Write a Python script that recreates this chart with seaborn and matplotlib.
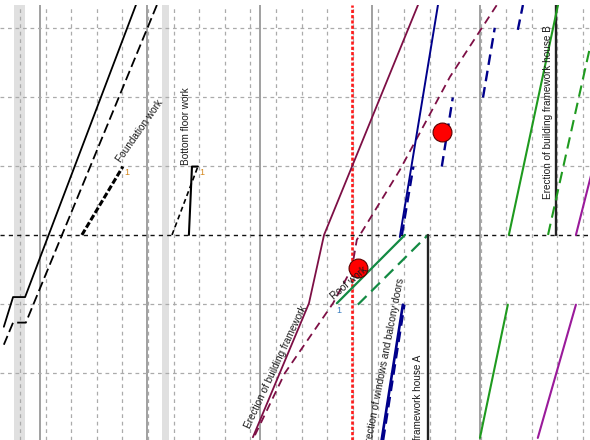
import matplotlib
matplotlib.use("Agg")
import matplotlib.pyplot as plt
import numpy as np
import pandas as pd
import seaborn as sns

sns.set_theme(style="white")
plt.rcParams["font.family"] = ["Liberation Sans", "DejaVu Sans"]

# ---------------- data (x = working day, y = building level) ----------------
day_grid = list(range(0, 23))
week_lines = [0.78, 4.96, 9.38, 13.75, 17.97]
level_grid = [-2, -1, 1, 2, 3]
house_split_level = 0
weekend_bands = [(-0.23, 0.20), (5.55, 5.82)]
status_day = 12.97

excav_act_day = [4.53, 0.20, -0.27, -0.63]
excav_act_lvl = [3.33, -0.90, -0.90, -1.33]
excav_plan_day = [5.35, 0.23, -0.27, -0.63]
excav_plan_lvl = [3.33, -1.27, -1.27, -1.59]

foundation_day = [2.42, 4.02]
foundation_lvl = [0.0, 0.99]

bottom_act_day = [6.60, 6.72, 6.95]
bottom_act_lvl = [0.0, 0.99, 0.99]
bottom_plan_day = [5.94, 6.95]
bottom_plan_lvl = [0.0, 0.99]

frame_act_day = [9.10, 11.29, 11.88, 15.55]
frame_act_lvl = [-2.93, -0.99, 0.0, 3.33]
frame_plan_day = [9.18, 10.35, 12.23, 12.97, 13.16, 13.40, 14.84, 16.80, 18.63]
frame_plan_lvl = [-2.90, -2.0, -0.99, -0.48, -0.07, 0.07, 0.94, 2.29, 3.33]

roof_act_day = [12.38, 15.04]
roof_act_lvl = [-0.99, 0.0]
roof_plan_day = [13.20, 15.94]
roof_plan_lvl = [-1.01, 0.0]

houseA_day = [15.94, 15.94]
houseA_lvl = [0.0, -2.97]
houseB_day = [20.94, 20.94]
houseB_lvl = [0.0, 3.33]

win_act_low_day = [14.13, 14.96]
win_act_low_lvl = [-2.97, -1.01]
win_act_up_day = [14.84, 16.33]
win_act_up_lvl = [-0.03, 3.33]
win_plan_segments = [
    ([14.19, 15.02], [-2.97, -1.01]),
    ([14.92, 15.37], [0.0, 0.99]),
    ([16.48, 16.91], [0.99, 1.99]),
    ([18.09, 18.55], [1.99, 3.0]),
    ([19.45, 19.65], [2.97, 3.33]),
]

green_act_low_day = [17.97, 19.06]
green_act_low_lvl = [-2.94, -1.01]
green_act_up_day = [19.10, 21.02]
green_act_up_lvl = [0.0, 3.33]
green_plan_day = [20.63, 22.64]
green_plan_lvl = [0.0, 3.33]

purple_low_day = [20.23, 21.72]
purple_low_lvl = [-2.94, -1.01]
purple_up_day = [21.72, 24.0]
purple_up_lvl = [0.0, 3.33]

delay_day = [13.20, 16.47]
delay_lvl = [-0.48, 1.49]

# ---------------- figure ----------------
fig = plt.figure(figsize=(5.9, 4.4), dpi=100)
ax = fig.add_axes([0, 0, 1, 435 / 440])
ax.set_xlim(-0.78, 22.27)
ax.set_ylim(-2.97, 3.33)
for s in ax.spines.values():
    s.set_visible(False)
ax.set_xticks([])
ax.set_yticks([])
ax.set_facecolor("white")

for a, b in weekend_bands:
    ax.axvspan(a, b, color="#e0e0e0", lw=0, zorder=0)
for d in day_grid:
    ax.axvline(d, color="#ababab", lw=0.9, ls=(0, (3, 3)), zorder=1)
for w in week_lines:
    ax.axvline(w, color="#a0a0a0", lw=1.4, zorder=1)
for l in level_grid:
    ax.axhline(l, color="#ababab", lw=0.9, ls=(0, (3, 3)), zorder=1)
ax.axhline(house_split_level, color="#111111", lw=1, ls=(0, (3, 3)), zorder=1)
ax.axvline(status_day, color="#ff1a1a", lw=1.9, ls=(0, (1.2, 0.8)), zorder=2)


def line(xs, ys, color, ls="-", lw=1.3, z=3):
    df = pd.DataFrame({"x": xs, "y": ys})
    sns.lineplot(data=df, x="x", y="y", sort=False, estimator=None, ax=ax,
                 color=color, linestyle=ls, lw=lw, zorder=z)


BLACK = "#000000"
MAROON = "#7d0f45"
NAVY = "#00008b"
GREEN_R = "#138a43"
GREEN = "#1f9a1f"
PURPLE = "#9a1a9a"

line(excav_act_day, excav_act_lvl, BLACK)
line(excav_plan_day, excav_plan_lvl, BLACK, ls=(0, (5.5, 2.4)))
line(foundation_day, foundation_lvl, BLACK, ls=(0, (2, 0.8)), lw=2.2)
line(bottom_act_day, bottom_act_lvl, BLACK, lw=1.5)
line(bottom_plan_day, bottom_plan_lvl, BLACK, ls=(0, (3, 2)), lw=1.2)
line(frame_act_day, frame_act_lvl, MAROON)
line(frame_plan_day, frame_plan_lvl, MAROON, ls=(0, (4.5, 3)))
line(roof_act_day, roof_act_lvl, GREEN_R, lw=1.6)
line(roof_plan_day, roof_plan_lvl, GREEN_R, ls=(0, (5.5, 3)), lw=1.6)
line(houseA_day, houseA_lvl, "#222222", lw=1.7)
line(houseB_day, houseB_lvl, "#222222", lw=1.7)
line(win_act_low_day, win_act_low_lvl, NAVY, lw=1.9)
line(win_act_up_day, win_act_up_lvl, NAVY, lw=1.4)
for xs, ys in win_plan_segments:
    line(xs, ys, NAVY, ls=(0, (4.5, 2.5)), lw=1.7)
line(green_act_low_day, green_act_low_lvl, GREEN, lw=1.5)
line(green_act_up_day, green_act_up_lvl, GREEN, lw=1.5)
line(green_plan_day, green_plan_lvl, GREEN, ls=(0, (5.5, 3)), lw=1.5)
line(purple_low_day, purple_low_lvl, PURPLE, lw=1.5)
line(purple_up_day, purple_up_lvl, PURPLE, lw=1.5)

sns.scatterplot(x=delay_day, y=delay_lvl, s=185, color="#ff0000",
                edgecolor="#5a0000", linewidth=0.8, ax=ax, zorder=5, legend=False)
ax.set_xlabel("")
ax.set_ylabel("")

TXT = "#1a1a1a"
FS = 7.2
ax.text(4.69, 1.50, "Foundation work", rotation=55, ha="center", va="center",
        rotation_mode="anchor", fontsize=FS, color=TXT, zorder=6)
ax.text(6.48, 1.58, "Bottom floor work", rotation=90, ha="center", va="center",
        rotation_mode="anchor", fontsize=FS, color=TXT, zorder=6)
ax.text(10.0, -1.91, "Erection of building framework", rotation=65, ha="center",
        va="center", rotation_mode="anchor", fontsize=FS, color=TXT, zorder=6)
ax.text(12.85, -0.70, "Roof work", rotation=41, ha="center", va="center",
        rotation_mode="anchor", fontsize=FS, color=TXT, zorder=6)
ax.text(14.88, -0.62, "Erection of windows and balcony doors", rotation=79,
        ha="right", va="center", rotation_mode="anchor", fontsize=FS,
        color=TXT, zorder=6, clip_on=True)
ax.text(15.55, -1.74, "Erection of building framework house A", rotation=90,
        ha="right", va="center", rotation_mode="anchor", fontsize=FS,
        color=TXT, zorder=6, clip_on=True)
ax.text(20.625, 1.78, "Erection of building framework house B", rotation=90,
        ha="center", va="center", rotation_mode="anchor", fontsize=FS,
        color=TXT, zorder=6)
ax.text(4.18, 0.90, "1", fontsize=6.5, color="#d4881e", ha="center", va="center", zorder=6)
ax.text(7.11, 0.90, "1", fontsize=6.5, color="#d4881e", ha="center", va="center", zorder=6)
ax.text(12.46, -1.10, "1", fontsize=6.5, color="#3a7fc0", ha="center", va="center", zorder=6)

fig.savefig("out.png", dpi=100, facecolor="white")
